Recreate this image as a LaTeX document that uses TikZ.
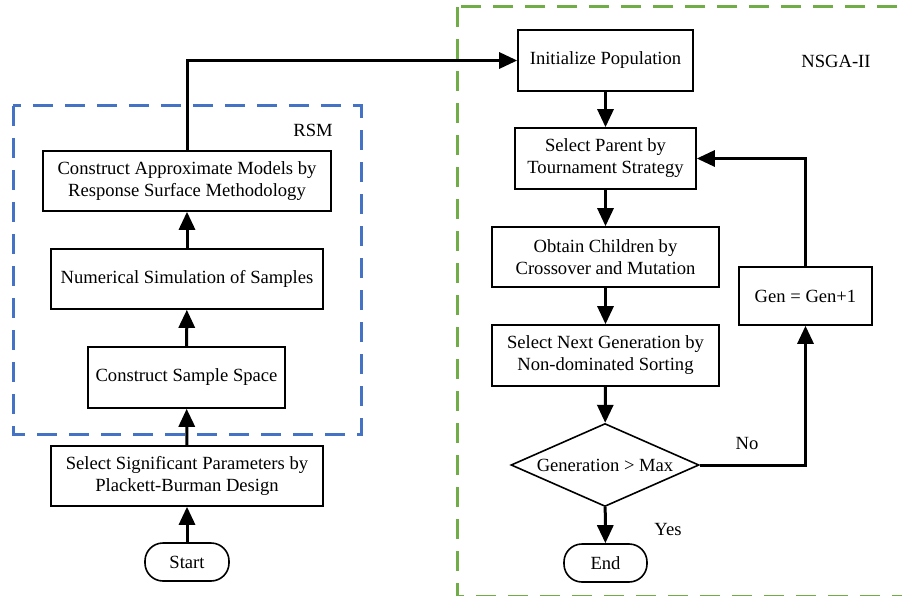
\documentclass[tikz,border=0pt]{standalone}
\usepackage{fontspec}
\setmainfont{Liberation Serif}
\usetikzlibrary{shapes.geometric,arrows.meta}
\definecolor{rsmblue}{HTML}{4472C4}
\definecolor{nsgagreen}{HTML}{70AD47}
\tikzset{
  box/.style={draw=black,line width=1.6pt,inner sep=0pt,align=center,font=\fontsize{18.6}{22}\selectfont},
  term/.style={box,rounded corners=18pt},
  cond/.style={box,shape=diamond,aspect=2.27},
  lbl/.style={inner sep=0pt,font=\fontsize{18.6}{22}\selectfont},
  flow/.style={line width=3pt,-{Triangle[length=18pt,width=16pt]}},
  frame/.style={line width=3pt,dash pattern=on 20pt off 12pt},
}
\begin{document}
\begin{tikzpicture}[x=1pt,y=-1pt]
\useasboundingbox (0,0) rectangle (902,596);
% frames
\draw[frame,draw=rsmblue] (13,106) rectangle (361,434);
\draw[frame,draw=nsgagreen] (457,7) rectangle (904,596);
% left column
\node[box,minimum width=288pt,minimum height=60pt] (approx) at (187,181) {Construct Approximate Models by\\Response Surface Methodology};
\node[box,minimum width=272pt,minimum height=60pt] (numsim) at (187,279) {Numerical Simulation of Samples};
\node[box,minimum width=197pt,minimum height=61pt] (space) at (186.5,377.5) {Construct Sample Space};
\node[box,minimum width=272pt,minimum height=60pt] (select) at (187,476) {Select Significant Parameters by\\Plackett-Burman Design};
\node[term,minimum width=84pt,minimum height=38pt] (start) at (187,562) {Start};
% right column
\node[box,minimum width=175pt,minimum height=61pt] (init) at (605.5,60.5) {Initialize Population};
\node[box,minimum width=181pt,minimum height=61pt] (parent) at (605.5,158.5) {Select Parent by\\Tournament Strategy};
\node[box,minimum width=227pt,minimum height=60pt] (obtain) at (605.5,257) {Obtain Children by\\Crossover and Mutation};
\node[box,minimum width=227pt,minimum height=61pt] (next) at (605.5,355.5) {Select Next Generation by\\Non-dominated Sorting};
\node[cond,minimum width=188pt,minimum height=83pt] (dec) at (605,465) {Generation > Max};
\node[term,minimum width=83pt,minimum height=38pt] (end) at (605.5,563) {End};
\node[box,minimum width=133pt,minimum height=58pt] (gen) at (805.5,296) {Gen = Gen+1};
% labels
\node[lbl] (rsmlbl) at (313,130) {RSM};
\node[lbl] (nsgalbl) at (836,61) {NSGA-II};
\node[lbl] (nolbl) at (747,443) {No};
\node[lbl] (yeslbl) at (668,529) {Yes};
% connectors
\draw[flow] (start) -- (select);
\draw[flow] (select) -- (space);
\draw[flow] (space) -- (numsim);
\draw[flow] (numsim) -- (approx);
\draw[flow] (approx.north) |- (init.west);
\draw[flow] (init) -- (parent);
\draw[flow] (parent) -- (obtain);
\draw[flow] (obtain) -- (next);
\draw[flow] (next) -- (dec);
\draw[flow] (dec) -- (end);
\draw[flow] (dec.east) -| (gen.south);
\draw[flow] (gen.north) |- (parent.east);
\end{tikzpicture}
\end{document}
